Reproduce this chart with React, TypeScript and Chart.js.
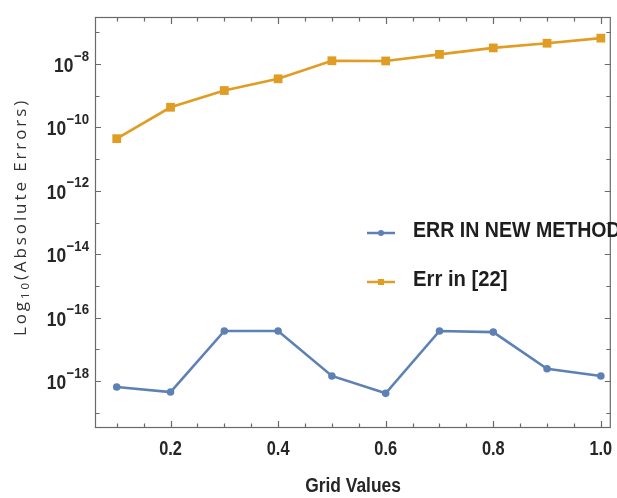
import React, { useEffect, useRef } from 'react';
import { Chart, registerables } from 'chart.js';

Chart.register(...registerables);

// ---------- data ----------
const gridValues = [0.1, 0.2, 0.3, 0.4, 0.5, 0.6, 0.7, 0.8, 0.9, 1.0];
const errNewMethod = [6.5e-19, 4.5e-19, 3.8e-17, 3.8e-17, 1.45e-18, 4.1e-19, 3.8e-17, 3.5e-17, 2.45e-18, 1.45e-18];
const err22 = [4.4e-11, 4.3e-10, 1.45e-9, 3.4e-9, 1.26e-8, 1.24e-8, 2.0e-8, 3.2e-8, 4.5e-8, 6.5e-8];
const seriesLabels = ['ERR IN NEW METHOD', 'Err in [22]'];
const xTickValues = [0.2, 0.4, 0.6, 0.8, 1.0];
const xTickLabels = ['0.2', '0.4', '0.6', '0.8', '1.0'];
const xMinorTicks = [0.1, 0.15, 0.25, 0.3, 0.35, 0.45, 0.5, 0.55, 0.65, 0.7, 0.75, 0.85, 0.9, 0.95];
const yTickExponents = [-18, -16, -14, -12, -10, -8];
const yMinorExponents = [-19, -17, -15, -13, -11, -9, -7];
const xTitle = 'Grid Values';
const yTitleParts = ['Log', '10', '(Absolute Errors)'];

const BLUE = '#5E81B5';
const ORANGE = '#E19C24';
const FRAME = '#6a6a6a';
const TEXT = '#262626';

function condText(ctx: CanvasRenderingContext2D, text: string, x: number, y: number, font: string, sx: number, align: 'left' | 'right' | 'center') {
  ctx.save();
  ctx.font = font;
  ctx.textBaseline = 'middle';
  ctx.textAlign = 'left';
  const w = ctx.measureText(text).width * sx;
  const left = align === 'right' ? x - w : align === 'center' ? x - w / 2 : x;
  ctx.translate(left, y);
  ctx.scale(sx, 1);
  ctx.fillText(text, 0, 0);
  ctx.restore();
  return w;
}

const framePlugin = {
  id: 'mmaFrame',
  beforeDatasetsDraw(chart: any) {
    const { ctx, chartArea: a, scales } = chart;
    const x = scales.x;
    const y = scales.y;
    ctx.save();
    ctx.strokeStyle = FRAME;
    ctx.lineWidth = 1.2;
    ctx.strokeRect(a.left + 0.5, a.top + 0.5, a.right - a.left - 1, a.bottom - a.top - 1);
    ctx.beginPath();
    const vTick = (v: number, len: number) => {
      const px = Math.round(x.getPixelForValue(v)) + 0.5;
      ctx.moveTo(px, a.bottom);
      ctx.lineTo(px, a.bottom - len);
      ctx.moveTo(px, a.top);
      ctx.lineTo(px, a.top + len);
    };
    xTickValues.forEach((v) => vTick(v, 7));
    xMinorTicks.forEach((v) => vTick(v, 4.5));
    const hTick = (e: number, len: number) => {
      const py = Math.round(y.getPixelForValue(Math.pow(10, e))) + 0.5;
      ctx.moveTo(a.left, py);
      ctx.lineTo(a.left + len, py);
      ctx.moveTo(a.right, py);
      ctx.lineTo(a.right - len, py);
    };
    yTickExponents.forEach((e) => hTick(e, 6));
    yMinorExponents.forEach((e) => hTick(e, 4.5));
    ctx.stroke();
    ctx.restore();
  },
  afterDraw(chart: any) {
    const { ctx, chartArea: a, scales } = chart;
    const x = scales.x;
    const y = scales.y;
    ctx.save();
    ctx.fillStyle = TEXT;
    // x tick labels
    xTickValues.forEach((v, i) => {
      condText(ctx, xTickLabels[i], x.getPixelForValue(v), a.bottom + 21, 'bold 21px "Liberation Sans", Arial, sans-serif', 0.78, 'center');
    });
    // y tick labels: 10 with superscript exponent
    yTickExponents.forEach((e) => {
      const py = y.getPixelForValue(Math.pow(10, e));
      const rightX = a.left - 6;
      const sw = condText(ctx, '\u2212' + String(-e), rightX, py - 7.5, 'bold 15px "Liberation Sans", Arial, sans-serif', 0.88, 'right');
      condText(ctx, '10', rightX - sw - 0.5, py + 2.5, 'bold 20px "Liberation Sans", Arial, sans-serif', 0.87, 'right');
    });
    // x title
    condText(ctx, xTitle, 353, 486, 'bold 20px "Liberation Sans", Arial, sans-serif', 0.87, 'center');
    // y title (rotated)
    ctx.save();
    ctx.fillStyle = '#333';
    ctx.translate(21, 217);
    ctx.rotate(-Math.PI / 2);
    ctx.textBaseline = 'middle';
    ctx.textAlign = 'left';
    (ctx as any).letterSpacing = '2.9px';
    const bigFont = '17px "Open Sans", sans-serif';
    const smallFont = '11.5px "Open Sans", sans-serif';
    ctx.font = bigFont;
    const w1 = ctx.measureText(yTitleParts[0]).width;
    const w3 = ctx.measureText(yTitleParts[2]).width;
    ctx.font = smallFont;
    const w2 = ctx.measureText(yTitleParts[1]).width;
    let cx = -(w1 + w2 + w3) / 2;
    ctx.font = bigFont;
    ctx.fillText(yTitleParts[0], cx, 0);
    cx += w1;
    ctx.font = smallFont;
    ctx.fillText(yTitleParts[1], cx, 4.5);
    cx += w2;
    ctx.font = bigFont;
    ctx.fillText(yTitleParts[2], cx, 0);
    ctx.restore();
    // legend
    const ds = chart.data.datasets;
    const legendRows = [231, 280];
    const legendScale = [0.87, 0.9];
    ds.forEach((d: any, i: number) => {
      const ly = legendRows[i];
      ctx.save();
      ctx.strokeStyle = d.borderColor;
      ctx.lineWidth = 2.5;
      ctx.beginPath();
      ctx.moveTo(367, ly + 2);
      ctx.lineTo(395, ly + 2);
      ctx.stroke();
      ctx.fillStyle = d.borderColor;
      ctx.beginPath();
      if (d.pointStyle === 'rect') {
        ctx.rect(381 - 3, ly + 2 - 3, 6, 6);
      } else {
        ctx.arc(381, ly + 2, 3, 0, Math.PI * 2);
      }
      ctx.fill();
      ctx.restore();
      ctx.fillStyle = '#1e1e1e';
      condText(ctx, d.label, 413, ly, 'bold 22.5px "Liberation Sans", Arial, sans-serif', legendScale[i], 'left');
    });
    ctx.restore();
  },
};

export default function App() {
  const canvasRef = useRef<HTMLCanvasElement | null>(null);

  useEffect(() => {
    if (!canvasRef.current) return;
    const chart = new Chart(canvasRef.current, {
      type: 'line',
      data: {
        datasets: [
          {
            label: seriesLabels[0],
            data: gridValues.map((v, i) => ({ x: v, y: errNewMethod[i] })),
            borderColor: BLUE,
            backgroundColor: BLUE,
            borderWidth: 2.6,
            pointStyle: 'circle',
            pointRadius: 3.8,
            pointBorderWidth: 0,
            tension: 0,
            clip: false,
          } as any,
          {
            label: seriesLabels[1],
            data: gridValues.map((v, i) => ({ x: v, y: err22[i] })),
            borderColor: ORANGE,
            backgroundColor: ORANGE,
            borderWidth: 2.6,
            pointStyle: 'rect',
            pointRadius: 6.2,
            pointBorderWidth: 0,
            tension: 0,
            clip: false,
          } as any,
        ],
      },
      options: {
        responsive: false,
        maintainAspectRatio: false,
        animation: false,
        devicePixelRatio: 1,
        layout: { padding: { top: 17, right: 3, left: 0, bottom: 0 } },
        plugins: { legend: { display: false }, tooltip: { enabled: false } },
        scales: {
          x: {
            type: 'linear',
            min: 0.0596,
            max: 1.0185,
            ticks: { display: false },
            grid: { display: false },
            border: { display: false },
            afterFit: (s: any) => {
              s.height = 70;
            },
          },
          y: {
            type: 'logarithmic',
            min: Math.pow(10, -19.48),
            max: Math.pow(10, -6.52),
            ticks: { display: false },
            grid: { display: false },
            border: { display: false },
            afterFit: (s: any) => {
              s.width = 95;
            },
          },
        },
      } as any,
      plugins: [framePlugin],
    });
    return () => chart.destroy();
  }, []);

  return (
    <div style={{ position: 'fixed', left: 0, top: 0, width: 617, height: 498, background: '#fff' }}>
      <canvas ref={canvasRef} width={617} height={498} />
    </div>
  );
}
